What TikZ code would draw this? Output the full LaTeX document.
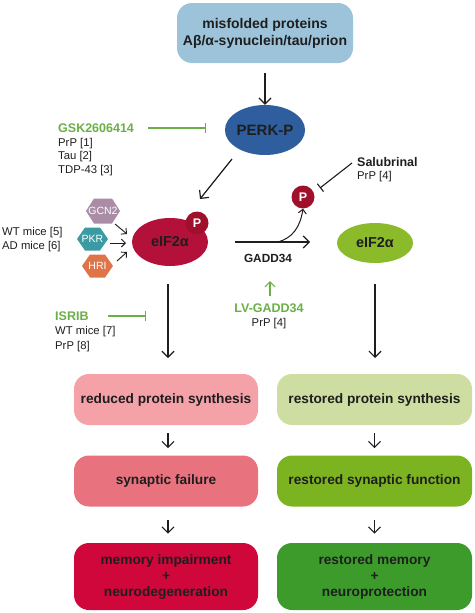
\documentclass[tikz,border=0pt]{standalone}
\usepackage{fontspec}
\setmainfont{Liberation Sans}
\usetikzlibrary{arrows.meta,shapes.geometric}
\definecolor{txt}{HTML}{1E1E1E}
\definecolor{topblue}{HTML}{9DC3DB}
\definecolor{perkblue}{HTML}{2F5E9E}
\definecolor{gsk}{HTML}{6BB046}
\definecolor{crim}{HTML}{B3103A}
\definecolor{pdark}{HTML}{A0102C}
\definecolor{lime}{HTML}{8BBB2A}
\definecolor{gcn}{HTML}{AB8CA6}
\definecolor{pkr}{HTML}{3A9BA2}
\definecolor{hri}{HTML}{E07449}
\definecolor{pinkA}{HTML}{F4A1A8}
\definecolor{pinkB}{HTML}{E8737E}
\definecolor{redC}{HTML}{D0073A}
\definecolor{grA}{HTML}{CEDEA2}
\definecolor{grB}{HTML}{7CB421}
\definecolor{grC}{HTML}{3C9B2B}
\begin{document}
\begin{tikzpicture}[x=1pt,y=-1pt,
  every node/.style={text=txt,font=\fontsize{11.3}{14}\selectfont},
  box/.style={rounded corners=15pt,minimum width=184pt,minimum height=51pt,align=center,font=\fontsize{13.7}{16}\selectfont\bfseries,inner sep=0pt},
  arr/.style={-{Straight Barb[length=6pt,width=12pt]},line width=1.2pt,draw=txt},
  sarr/.style={-{Straight Barb[length=4pt,width=8pt]},line width=0.9pt,draw=txt},
  inh/.style={-{Bar[width=10pt]},line width=1.1pt},
  pcirc/.style={circle,fill=pdark,minimum size=23pt,inner sep=0pt,text=white,font=\fontsize{12.5}{12}\selectfont\bfseries},
  lbl/.style={anchor=west,inner sep=0pt,align=left},
  hdr/.style={font=\fontsize{12.5}{14}\selectfont\bfseries},
  hexlbl/.style={text=white,font=\fontsize{10.5}{12}\selectfont,inner sep=0pt}
]
\useasboundingbox[fill=white] (0,0) rectangle (474,613);

% top box
\node[box,fill=topblue,minimum width=176pt,minimum height=60pt,font=\fontsize{14}{17}\selectfont\bfseries] (top) at (265,33) {misfolded proteins\\Aβ/α-synuclein/tau/prion};

% PERK-P
\node[ellipse,fill=perkblue,minimum width=76pt,minimum height=50pt,inner sep=0pt,font=\fontsize{15}{16}\selectfont\bfseries] (perk) at (265,130) {PERK-P};
\coordinate (perkin) at (265,73);
\draw[arr] (perkin) -- (perk.north);

% GSK
\node[lbl,hdr,text=gsk] (gsk) at (58,128) {GSK2606414};
\node[lbl,font=\fontsize{11.3}{13.5}\selectfont] (gskref) at (58,157) {PrP [1]\\Tau [2]\\TDP-43 [3]};
\coordinate (gskstart) at (148,128);
\coordinate (gskend) at (206,128);
\draw[inh,draw=gsk] (gskstart) -- (gskend);

% red eIF2a
\node[ellipse,fill=crim,minimum width=76pt,minimum height=48pt,inner sep=0pt,font=\fontsize{14.4}{16}\selectfont\bfseries] (eifr) at (170,242) {eIF2α};
\node[pcirc] (p1) at (197,223) {P};
\coordinate (perkout) at (232,159);
\coordinate (eifin) at (200,199);
\draw[arr] (perkout) -- (eifin);

% hexagons
\fill[gcn] (86,211) -- (94,198.5) -- (112,198.5) -- (120,211) -- (112,223.5) -- (94,223.5) -- cycle;
\fill[pkr] (77,239) -- (85,227.5) -- (100,227.5) -- (108,239) -- (100,250.5) -- (85,250.5) -- cycle;
\fill[hri] (82,266) -- (90,254.5) -- (105,254.5) -- (113,266) -- (105,277.5) -- (90,277.5) -- cycle;
\node[hexlbl] (gcn2) at (103,211) {GCN2};
\node[hexlbl] (pkrn) at (92.5,239) {PKR};
\node[hexlbl] (hrin) at (97.5,266) {HRI};
\coordinate (ga) at (115,224); \coordinate (gb) at (127,234);
\coordinate (pa) at (110,243); \coordinate (pb) at (126,243);
\coordinate (ha) at (117,261); \coordinate (hb) at (127,252);
\draw[sarr] (ga) -- (gb);
\draw[sarr] (pa) -- (pb);
\draw[sarr] (ha) -- (hb);
\node[lbl] (wtad) at (2,240) {WT mice [5]\\AD mice [6]};

% Salubrinal
\node[pcirc] (p2) at (303,197) {P};
\node[lbl,hdr] (salu) at (357,162) {Salubrinal};
\node[lbl] (saluref) at (357,177) {PrP [4]};
\coordinate (salustart) at (352,163);
\coordinate (saluend) at (320,188);
\draw[inh,draw=txt] (salustart) -- (saluend);

% green eIF2a
\node[ellipse,fill=lime,minimum width=76pt,minimum height=40pt,inner sep=0pt,font=\fontsize{14.4}{16}\selectfont\bfseries] (eifg) at (375,243) {eIF2α};

% GADD34
\coordinate (gstart) at (235,242);
\coordinate (gend) at (310,242);
\coordinate (gbranch) at (278,242);
\draw[arr] (gstart) -- (gend);
\draw[sarr,line width=1pt] (gbranch) .. controls (292,238) and (300,228) .. (p2.south);
\node[font=\fontsize{11.8}{12}\selectfont\bfseries] (gadd) at (268,258) {GADD34};

% LV-GADD34
\coordinate (lvtop) at (270,281);
\coordinate (lvbot) at (270,296);
\node[hdr,text=gsk,inner sep=0pt] (lv) at (269,308) {LV-GADD34};
\node[inner sep=0pt] (lvref) at (269,324) {PrP [4]};
\draw[-{Straight Barb[length=5pt,width=10pt]},line width=1.1pt,draw=gsk] (lvbot) -- (lvtop);

% ISRIB
\node[lbl,hdr,text=gsk] (isrib) at (55,316) {ISRIB};
\node[lbl,font=\fontsize{11.3}{14.5}\selectfont] (isribref) at (55,339) {WT mice [7]\\PrP [8]};
\coordinate (isribstart) at (108,316);
\coordinate (isribend) at (146,316);
\draw[inh,draw=gsk] (isribstart) -- (isribend);

% bottom boxes
\node[box,fill=pinkA] (l1) at (166,399.5) {reduced protein synthesis};
\node[box,fill=pinkB] (l2) at (166,481) {synaptic failure};
\node[box,fill=redC,minimum height=67pt] (l3) at (166,576.5) {memory impairment\\+\\neurodegeneration};
\node[box,fill=grA,minimum width=195pt] (r1) at (374.5,399.5) {restored protein synthesis};
\node[box,fill=grB,minimum width=195pt] (r2) at (374.5,481) {restored synaptic function};
\node[box,fill=grC,minimum width=195pt,minimum height=67pt] (r3) at (374.5,576.5) {restored memory\\+\\neuroprotection};

\coordinate (ld1) at (168,284); \coordinate (ld2) at (168,358);
\coordinate (rd1) at (375,284); \coordinate (rd2) at (375,358);
\draw[arr] (ld1) -- (ld2);
\draw[arr] (rd1) -- (rd2);
\path (l1.south) ++(2,8) coordinate (la1) ++(0,15) coordinate (la2);
\path (l2.south) ++(2,13) coordinate (lb1) ++(0,14) coordinate (lb2);
\path (r1.south) ++(0,8) coordinate (ra1) ++(0,15) coordinate (ra2);
\path (r2.south) ++(0,13) coordinate (rb1) ++(0,14) coordinate (rb2);
\draw[arr] (la1) -- (la2);
\draw[arr] (lb1) -- (lb2);
\draw[arr] (ra1) -- (ra2);
\draw[arr] (rb1) -- (rb2);
\end{tikzpicture}
\end{document}
